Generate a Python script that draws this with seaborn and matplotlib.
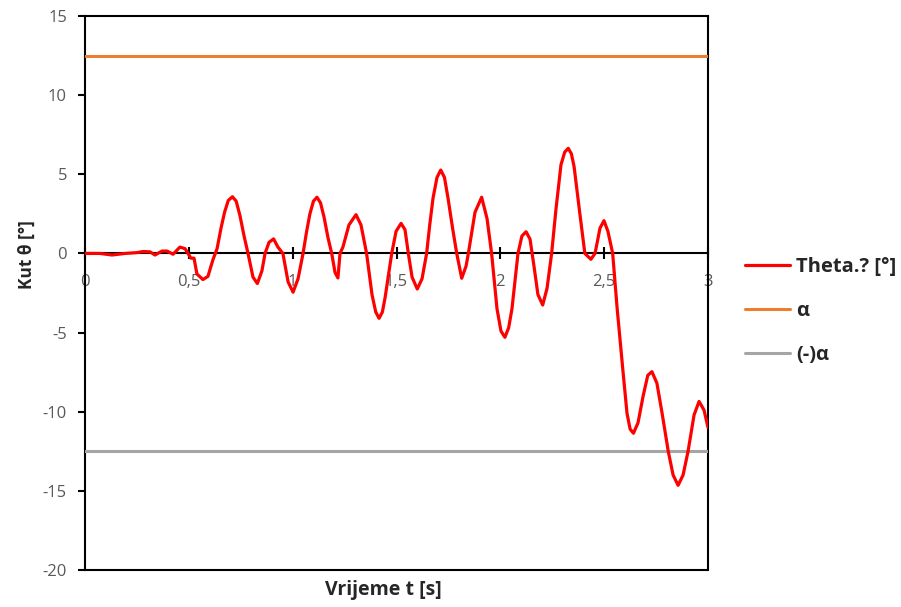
import numpy as np
import pandas as pd
import seaborn as sns
import matplotlib
matplotlib.use("Agg")
import matplotlib.pyplot as plt
from matplotlib.ticker import FixedLocator, FixedFormatter

sns.set_theme(style="white")
plt.rcParams['font.family'] = ['Open Sans', 'DejaVu Sans']

# ---- data ----
time_s = [0.000, 0.072, 0.130, 0.193, 0.250, 0.279, 0.313, 0.337, 0.371, 0.395,
          0.424, 0.457, 0.482, 0.496, 0.510, 0.525, 0.539, 0.568, 0.592, 0.616,
          0.636, 0.655, 0.672, 0.690, 0.710, 0.728, 0.746, 0.766, 0.785, 0.809,
          0.830, 0.852, 0.867, 0.886, 0.908, 0.929, 0.953, 0.978, 1.002, 1.026,
          1.050, 1.066, 1.083, 1.100, 1.117, 1.134, 1.151, 1.170, 1.188, 1.204,
          1.218, 1.228, 1.242, 1.271, 1.305, 1.329, 1.356, 1.382, 1.400, 1.416,
          1.432, 1.445, 1.477, 1.498, 1.522, 1.541, 1.557, 1.575, 1.600, 1.623,
          1.645, 1.660, 1.676, 1.695, 1.713, 1.731, 1.748, 1.770, 1.790, 1.814,
          1.835, 1.846, 1.878, 1.910, 1.936, 1.958, 1.984, 2.003, 2.022, 2.040,
          2.056, 2.085, 2.104, 2.124, 2.143, 2.162, 2.181, 2.204, 2.225, 2.247,
          2.268, 2.292, 2.310, 2.327, 2.342, 2.355, 2.383, 2.407, 2.436, 2.456,
          2.480, 2.499, 2.518, 2.541, 2.562, 2.591, 2.610, 2.625, 2.641, 2.663,
          2.687, 2.710, 2.730, 2.754, 2.779, 2.809, 2.832, 2.856, 2.880, 2.904,
          2.933, 2.957, 2.981, 3.000]
theta_deg = [0.00, 0.00, -0.10, 0.00, 0.05, 0.12, 0.10, -0.10, 0.15, 0.15,
             -0.05, 0.40, 0.30, 0.00, -0.30, -0.30, -1.30, -1.65, -1.45, -0.40,
             0.30, 1.60, 2.60, 3.35, 3.58, 3.30, 2.40, 1.10, 0.00, -1.50,
             -1.90, -1.10, 0.00, 0.70, 0.92, 0.40, 0.00, -1.80, -2.45, -1.60,
             0.00, 1.30, 2.50, 3.30, 3.55, 3.20, 2.30, 1.00, 0.00, -1.20,
             -1.55, 0.00, 0.40, 1.80, 2.45, 1.80, 0.00, -2.60, -3.70, -4.10,
             -3.70, -2.80, 0.00, 1.40, 1.90, 1.50, 0.00, -1.50, -2.25, -1.60,
             0.00, 1.80, 3.50, 4.80, 5.27, 4.80, 3.50, 1.60, 0.00, -1.57,
             -0.80, 0.00, 2.60, 3.55, 2.20, 0.00, -3.50, -4.90, -5.30, -4.70,
             -3.50, 0.00, 1.10, 1.37, 0.90, -0.80, -2.60, -3.26, -2.20, 0.00,
             2.80, 5.60, 6.40, 6.64, 6.30, 5.50, 2.50, 0.00, -0.37, 0.00,
             1.60, 2.07, 1.40, 0.00, -3.40, -7.50, -10.10, -11.10, -11.36, -10.70,
             -9.05, -7.70, -7.47, -8.20, -10.10, -12.53, -14.00, -14.65, -14.00, -12.50,
             -10.20, -9.35, -9.90, -11.00]
alpha_deg = 12.5
alpha_time = [0.0, 3.0]

series_labels = ['Theta.? [°]', 'α', '(-)α']
x_ticks = [0, 0.5, 1, 1.5, 2, 2.5, 3]
x_tick_labels = ['0', '0,5', '1', '1,5', '2', '2,5', '3']
y_ticks = [-20, -15, -10, -5, 0, 5, 10, 15]
y_tick_labels = ['-20', '-15', '-10', '-5', '0', '5', '10', '15']

df_theta = pd.DataFrame({'t': time_s, 'v': theta_deg})
df_alpha = pd.DataFrame({'t': alpha_time, 'v': [alpha_deg] * len(alpha_time)})
df_malpha = pd.DataFrame({'t': alpha_time, 'v': [-alpha_deg] * len(alpha_time)})

fig = plt.figure(figsize=(9.01, 6.07), dpi=100)
ax = fig.add_axes([85 / 901, 1 - 570 / 607, (708 - 85) / 901, (570 - 16) / 607])

sns.lineplot(data=df_theta, x='t', y='v', color='#FF0000', linewidth=2.3,
             ax=ax, label=series_labels[0], sort=False, estimator=None, zorder=5)
sns.lineplot(data=df_alpha, x='t', y='v', color='#ED7D31', linewidth=2.2,
             ax=ax, label=series_labels[1], estimator=None, zorder=4)
sns.lineplot(data=df_malpha, x='t', y='v', color='#A5A5A5', linewidth=2.2,
             ax=ax, label=series_labels[2], estimator=None, zorder=4)

ax.set_xlim(0, 3)
ax.set_ylim(-20, 15)

# spines: x axis through zero, full black frame
for s in ['left', 'right', 'top', 'bottom']:
    ax.spines[s].set_visible(True)
    ax.spines[s].set_color('black')
    ax.spines[s].set_linewidth(1.5)
ax.spines['bottom'].set_position(('data', 0))
ax.spines['bottom'].set_zorder(3)
ax.axhline(-20, color='black', linewidth=1.5, clip_on=False, zorder=3)

ax.xaxis.set_major_locator(FixedLocator(x_ticks))
ax.xaxis.set_major_formatter(FixedFormatter(x_tick_labels))
ax.yaxis.set_major_locator(FixedLocator(y_ticks))
ax.yaxis.set_major_formatter(FixedFormatter(y_tick_labels))

ax.tick_params(axis='x', direction='inout', length=9, width=1.5, color='black',
               labelsize=12, labelcolor='#595959', pad=10, bottom=True)
ax.tick_params(axis='y', direction='out', length=5, width=1.5, color='black',
               labelsize=12, labelcolor='#595959', pad=8, left=True)

ax.set_xlabel('Vrijeme t [s]', fontsize=14, fontweight='bold', color='#262626')
ax.set_ylabel('Kut θ [°]', fontsize=12.5, fontweight='bold', color='#262626')
ax.xaxis.label.set_va('center')
ax.yaxis.label.set_va('center')
ax.xaxis.set_label_coords((383 - 85) / 623, (570 - 590) / 554)
ax.yaxis.set_label_coords((27 - 85) / 623, (570 - 255) / 554)

ax.grid(False)

leg = ax.legend(loc='upper left', bbox_to_anchor=(745 / 901, 1 - 257 / 607),
                bbox_transform=fig.transFigure, frameon=False,
                prop={'size': 14.5, 'weight': 'bold'}, handlelength=2.25,
                labelspacing=1.2, handletextpad=0.3, borderaxespad=0, borderpad=0)
for t in leg.get_texts():
    t.set_color('#262626')

fig.savefig('out.png', dpi=100, facecolor='white')
